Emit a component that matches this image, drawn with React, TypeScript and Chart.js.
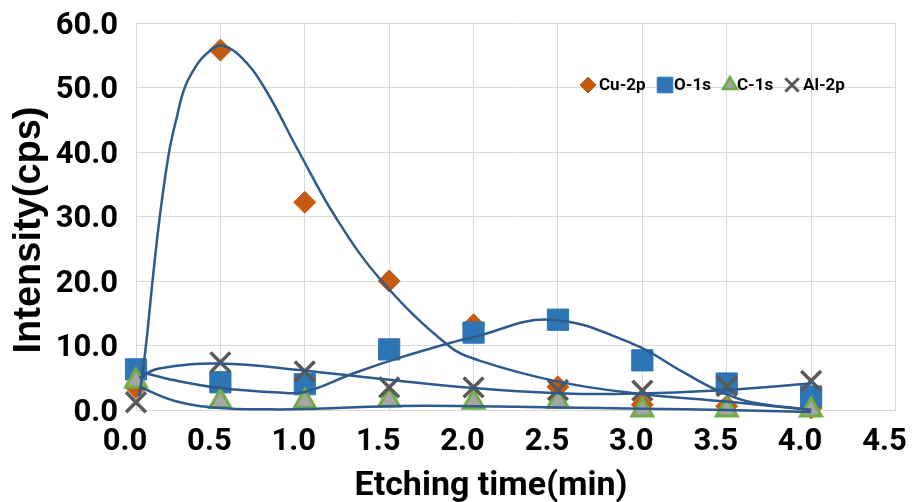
import React, { useEffect, useRef } from 'react';
import { Chart, registerables } from 'chart.js';
import { drawPoint } from 'chart.js/helpers';

Chart.register(...registerables);

// ---- data ----
const etchingTimes = [0, 0.5, 1.0, 1.5, 2.0, 2.5, 3.0, 3.5, 4.0];
const cu2p = [3.5, 55.8, 32.2, 20.0, 13.2, 3.6, 0.8, 0.6, 0.3];
const o1s = [6.3, 4.3, 4.0, 9.4, 12.0, 14.0, 7.7, 4.1, 2.1];
const c1s = [4.5, 1.3, 1.3, 1.5, 1.2, 1.3, 0.0, 0.0, 0.0];
const al2p = [1.2, 7.4, 6.0, 3.5, 3.5, 3.1, 3.0, 3.7, 4.5];

// fitted trend curves
const cuFitTimes = [0.02, 0.059, 0.098, 0.141, 0.196, 0.24, 0.289, 0.357, 0.416, 0.505, 0.62, 0.76, 0.966, 1.18, 1.456, 1.85, 2.03, 2.5, 2.95, 3.5, 4.0];
const cuFitValues = [2.1, 10.0, 20.0, 30.0, 40.0, 45.2, 50.0, 53.4, 55.2, 56.5, 54.8, 50.0, 40.0, 30.0, 20.0, 10.0, 7.7, 4.4, 2.6, 1.3, 0.0];
const oFitTimes = [0.03, 0.23, 0.5, 0.85, 1.0, 1.29, 1.55, 1.89, 2.0, 2.45, 2.94, 3.24, 3.44, 3.63, 4.0];
const oFitValues = [5.9, 4.6, 3.4, 2.7, 2.8, 5.7, 8.0, 10.6, 11.3, 14.0, 10.3, 5.9, 3.1, 1.3, 0.0];
const alFitTimes = [0.02, 0.13, 0.5, 1.0, 1.5, 2.0, 2.5, 2.9, 3.5, 4.0];
const alFitValues = [5.0, 6.4, 7.2, 6.1, 4.7, 3.4, 2.6, 2.5, 3.1, 4.1];
const cFitTimes = [0.02, 0.23, 0.5, 0.8, 1.0, 1.5, 2.0, 2.5, 3.0, 3.5, 4.0];
const cFitValues = [3.6, 1.4, 0.3, 0.1, 0.15, 0.6, 0.6, 0.4, 0.2, 0.0, -0.3];

const seriesNames = ['Cu-2p', 'O-1s', 'C-1s', 'Al-2p'];
const xTitle = 'Etching time(min)';
const yTitle = 'Intensity(cps)';
const xMin = 0, xMax = 4.5, xStep = 0.5;
const yMin = 0, yMax = 60, yStep = 10;

const FONT = "Roboto, 'Liberation Sans', sans-serif";
const WIDE = "'Liberation Sans', Arial, sans-serif";

const toPts = (xs: number[], ys: number[]) => xs.map((x, i) => ({ x, y: ys[i] }));

const CU = '#C55A11';
const OX = '#2E75B6';
const CG = '#70AD47';
const CFILL = '#A5A5A5';
const AL = '#595959';
const FIT = '#2E5A8C';

const overlayPlugin = {
  id: 'overlay',
  afterDraw(chart: any) {
    const ctx: CanvasRenderingContext2D = chart.ctx;
    ctx.save();
    // legend
    const ly = 85;
    const items = [
      { mx: 588, tx: 599, style: 'rectRot', r: 8, fill: CU, stroke: CU, bw: 1 },
      { mx: 665, tx: 674, style: 'rect', r: 11, fill: OX, stroke: OX, bw: 1 },
      { mx: 730, tx: 737, style: 'triangle', r: 8, fill: CFILL, stroke: CG, bw: 2.5 },
      { mx: 792, tx: 803, style: 'crossRot', r: 9.5, fill: AL, stroke: AL, bw: 3 },
    ];
    items.forEach((it, i) => {
      ctx.fillStyle = it.fill;
      ctx.strokeStyle = it.stroke;
      ctx.lineWidth = it.bw;
      drawPoint(ctx, { pointStyle: it.style, radius: it.r, rotation: 0, borderWidth: it.bw } as any, it.mx, ly);
      ctx.fillStyle = '#000';
      ctx.font = `bold 17px ${FONT}`;
      ctx.textAlign = 'left';
      ctx.textBaseline = 'middle';
      ctx.fillText(seriesNames[i], it.tx, ly + 1);
    });
    // axis titles
    ctx.fillStyle = '#000';
    ctx.font = `bold 34px ${FONT}`;
    ctx.textAlign = 'center';
    ctx.textBaseline = 'alphabetic';
    ctx.fillText(xTitle, 491, 495);
    ctx.translate(30, 230);
    ctx.rotate(-Math.PI / 2);
    ctx.font = `bold 38px ${WIDE}`;
    ctx.textBaseline = 'middle';
    ctx.fillText(yTitle, 0, 0);
    ctx.restore();
  },
};

export default function App() {
  const ref = useRef<HTMLCanvasElement | null>(null);
  useEffect(() => {
    if (!ref.current) return;
    const markerBase = { showLine: false, clip: false as any };
    const fitBase = {
      showLine: true,
      pointRadius: 0,
      borderColor: FIT,
      borderWidth: 2.5,
      tension: 0.4,
      clip: false as any,
      order: 0,
    };
    const chart = new Chart(ref.current, {
      type: 'scatter',
      data: {
        datasets: [
          { ...fitBase, label: 'Cu-2p fit', data: toPts(cuFitTimes, cuFitValues) },
          { ...fitBase, label: 'O-1s fit', data: toPts(oFitTimes, oFitValues) },
          { ...fitBase, label: 'C-1s fit', data: toPts(cFitTimes, cFitValues) },
          { ...fitBase, label: 'Al-2p fit', data: toPts(alFitTimes, alFitValues) },
          {
            ...markerBase, label: seriesNames[0], data: toPts(etchingTimes, cu2p), order: 4,
            pointStyle: 'rectRot', pointRadius: 11, backgroundColor: CU, borderColor: CU, borderWidth: 1,
          },
          {
            ...markerBase, label: seriesNames[1], data: toPts(etchingTimes, o1s), order: 3,
            pointStyle: 'rect', pointRadius: 15, backgroundColor: OX, borderColor: OX, borderWidth: 1,
          },
          {
            ...markerBase, label: seriesNames[2], data: toPts(etchingTimes, c1s), order: 2,
            pointStyle: 'triangle', pointRadius: 12, backgroundColor: CFILL, borderColor: CG, borderWidth: 3,
          },
          {
            ...markerBase, label: seriesNames[3], data: toPts(etchingTimes, al2p), order: 1,
            pointStyle: 'crossRot', pointRadius: 14, backgroundColor: AL, borderColor: AL, borderWidth: 3.5,
          },
        ],
      },
      options: {
        responsive: false,
        animation: false,
        events: [],
        layout: { padding: { top: 23, right: 13, left: 0, bottom: 0 } },
        plugins: { legend: { display: false }, tooltip: { enabled: false } },
        scales: {
          x: {
            type: 'linear',
            min: xMin,
            max: xMax,
            grid: { color: '#D9D9D9', lineWidth: 1, drawTicks: false },
            border: { display: true, color: '#D9D9D9' },
            ticks: {
              stepSize: xStep,
              color: '#000',
              padding: 14,
              labelOffset: -11,
              maxRotation: 0,
              font: { family: FONT, size: 31, weight: 'bold' },
              callback: (v: any) => Number(v).toFixed(1),
            },
            afterFit: (s: any) => {
              s.height = 92;
              s.paddingLeft = 0;
              s.paddingRight = 0;
            },
          },
          y: {
            type: 'linear',
            min: yMin,
            max: yMax,
            grid: { color: '#D9D9D9', lineWidth: 1, drawTicks: false },
            border: { display: true, color: '#D9D9D9' },
            ticks: {
              stepSize: yStep,
              color: '#000',
              padding: 18,
              labelOffset: 3,
              font: { family: FONT, size: 31, weight: 'bold' },
              callback: (v: any) => Number(v).toFixed(1),
            },
            afterFit: (s: any) => {
              s.width = 136;
              s.paddingTop = 0;
              s.paddingBottom = 0;
            },
          },
        },
      } as any,
      plugins: [overlayPlugin],
    });
    return () => chart.destroy();
  }, []);
  return (
    <div style={{ position: 'fixed', left: 0, top: 0, width: 913, height: 502, background: '#fff' }}>
      <canvas ref={ref} width={913} height={502} style={{ display: 'block', width: 913, height: 502 }} />
    </div>
  );
}
